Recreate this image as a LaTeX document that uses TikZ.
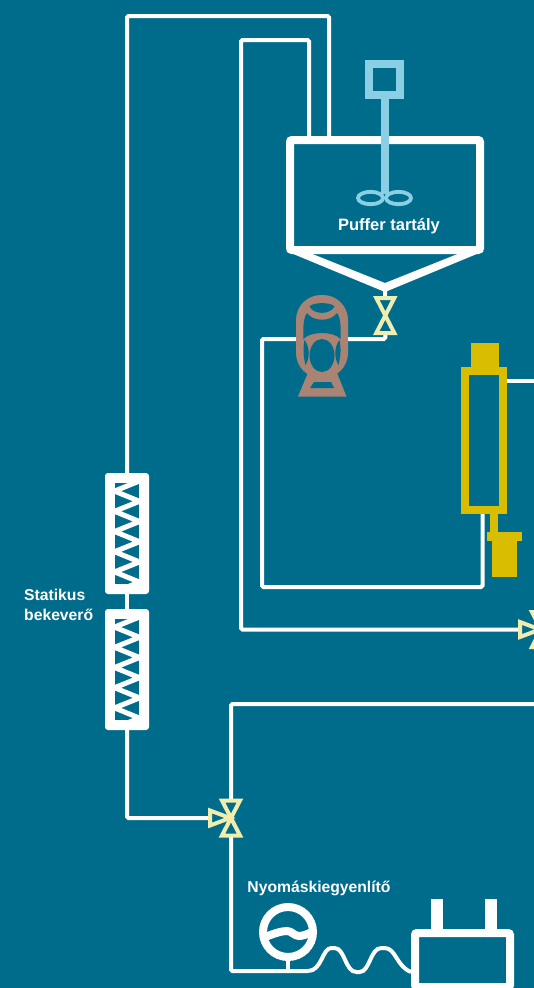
\documentclass[tikz,border=0pt]{standalone}
\usepackage{fontspec}
\setmainfont{Liberation Sans}
\usepackage{tikz}
\usetikzlibrary{positioning,backgrounds}
\definecolor{pagecol}{HTML}{006C8B}
\definecolor{stircol}{HTML}{8ACFE3}
\definecolor{valvecol}{HTML}{F0EDAE}
\definecolor{pumpcol}{HTML}{A98474}
\definecolor{colcol}{HTML}{D9BD00}
\tikzset{
  pics/bowtie/.style={code={
    \coordinate (-top) at (0,-19);
    \coordinate (-bot) at (0,19);
    \draw[valveline] (-9,-17.5)--(9,-17.5)--(0,0)--(9,17.5)--(-9,17.5)--(0,0)--cycle;
  }},
  pics/threeway/.style={code={
    \coordinate (-top) at (0,-19);
    \coordinate (-bot) at (0,19);
    \coordinate (-left) at (-23,0);
    \draw[valveline] (-21,-7.5)--(-21,7.5)--(-1,0)--cycle;
    \draw[valveline] (-9,-17.5)--(9,-17.5)--(0,0)--(9,17.5)--(-9,17.5)--(0,0)--cycle;
  }},
  pics/mixer/.style={code={
    \node[mixerbody] (-body) at (0,0) {};
    \fill[pagecol] (-12,-50.5) rectangle (12,50.5);
    \begin{scope}
      \clip (-12,-50.5) rectangle (12,50.5);
      \draw[white,line width=5pt] (12.5,-52.5) foreach \k in {0,...,5} {-- (-12.5,-42.4+20.2*\k) -- (12.5,-32.2+20.2*\k)};
    \end{scope}
  }}
}
\begin{document}
\begin{tikzpicture}[x=1pt,y=-1pt,line join=miter]
    \tikzstyle{pipe}=[draw=white,line width=4pt,rounded corners=1.5pt]
    \tikzstyle{valveline}=[draw=valvecol,fill=pagecol,line width=4pt]
    \tikzstyle{mixerbody}=[draw=none,fill=white,rectangle,rounded corners=3pt,minimum width=44pt,minimum height=121pt,inner sep=0pt,outer sep=0pt]
    \tikzstyle{wall}=[rectangle,draw=white,line width=8pt,rounded corners=2pt,inner sep=0pt,outer sep=0pt]
    \tikzstyle{yellowpart}=[rectangle,fill=colcol,inner sep=0pt,outer sep=0pt]
    \tikzstyle{caption}=[text=white,font=\bfseries\fontsize{15.7}{20}\selectfont,inner sep=0pt]

    \useasboundingbox (0,0) rectangle (534,988);
    \clip (0,0) rectangle (534,988);

    % tank and stirrer
    \node[wall,minimum width=190pt,minimum height=110pt] (tank) at (385,195) {};
    \fill[white] (286,251) -- (385,292) -- (484,251) -- (460,253) -- (385,283) -- (310,253) -- cycle;
    \node[rectangle,draw=stircol,line width=8pt,minimum size=31pt,inner sep=0pt,outer sep=0pt] (motor) at (384.5,79) {};
    \coordinate (hub) at (384.5,194);
    \draw[stircol,line width=8pt] (motor.south) -- (hub);
    \draw[stircol,line width=3.8pt] (370.5,198) ellipse [x radius=12.5pt,y radius=6.2pt];
    \draw[stircol,line width=3.8pt] (398.5,198) ellipse [x radius=12.5pt,y radius=6.2pt];
    \node[caption,font=\bfseries\fontsize{16.5}{20}\selectfont] (tanklabel) at (389,226) {Puffer tartály};
    \coordinate (apex) at (385,288);
    \pic (tankvalve) at (385.3,315.5) {bowtie};

    % pump
    \node[rectangle,fill=pumpcol,rounded corners=25pt,minimum width=52pt,minimum height=83pt,inner sep=0pt,outer sep=0pt] (pump) at (322,336.5) {};
    \fill[pumpcol] (298,396.5) -- (346.5,396.5) -- (335,368) -- (310,368) -- cycle;
    \fill[pagecol] (314,382) -- (331,382) -- (334,388) -- (310,388) -- cycle;
    \fill[pagecol] (309.5,306.5) .. controls (313,302) and (331,302) .. (334.5,306.5) .. controls (330,315) and (314,315) .. (309.5,306.5) -- cycle;
    \fill[pagecol] (307,313) .. controls (313,322) and (331,322) .. (337,313) .. controls (341,318) and (341,330) .. (340.5,339) .. controls (334,331) and (310,331) .. (303.5,339) .. controls (303,330) and (303,318) .. (307,313) -- cycle;
    \fill[pagecol] (322,355.5) ellipse [x radius=12.5pt,y radius=16.5pt];
    \fill[pagecol] (304.5,340) .. controls (310,347) and (310,358) .. (305.5,365) .. controls (303,355) and (303,348) .. (304.5,340) -- cycle;
    \fill[pagecol] (339.5,340) .. controls (334,347) and (334,358) .. (338.5,365) .. controls (341,355) and (341,348) .. (339.5,340) -- cycle;

    % column
    \node[rectangle,draw=colcol,line width=8pt,minimum width=38pt,minimum height=139pt,inner sep=0pt,outer sep=0pt] (column) at (484,440.5) {};
    \node[yellowpart,minimum width=28pt,minimum height=24pt] (colcap) at (485,355) {};
    \node[yellowpart,minimum width=8pt,minimum height=20pt] (colstem) at (494,523) {};
    \node[yellowpart,minimum width=35pt,minimum height=9pt] (colflange) at (504.5,536.5) {};
    \node[yellowpart,minimum width=25pt,minimum height=36pt] (colfoot) at (504.5,559) {};

    % static mixers
    \pic (mixA) at (127,533.5) {mixer};
    \pic (mixB) at (127,669.5) {mixer};
    \node[caption,anchor=west,align=left] (mixlabel) at (24,605) {Statikus\\bekeverő};

    % valves
    \pic (mainvalve) at (231,818) {threeway};
    \pic (sidevalve) at (541,629.5) {threeway};

    % balancer and tank at the bottom
    \node[caption] (gaugelabel) at (319,888) {Nyomáskiegyenlítő};
    \node[circle,draw=white,line width=8pt,minimum size=50pt,inner sep=0pt,outer sep=0pt] (gauge) at (288,932) {};
    \draw[white,line width=8pt] (265,937) .. controls (273,934) and (281,931) .. (287,931) .. controls (292,931) and (294,936) .. (299,936) .. controls (303,936) and (307,934) .. (311,932.5);
    \node[wall,minimum width=95pt,minimum height=54pt] (feedtank) at (462.5,960) {};
    \node[rectangle,fill=white,minimum width=12pt,minimum height=32pt,inner sep=0pt,outer sep=0pt] (plugA) at (437,915) {};
    \node[rectangle,fill=white,minimum width=12pt,minimum height=32pt,inner sep=0pt,outer sep=0pt] (plugB) at (491,915) {};

    % free ends and corners
    \coordinate (portA) at (329,137);
    \coordinate (portB) at (309,137);
    \coordinate (exitA) at (534,381);
    \coordinate (exitB) at (534,704);
    \coordinate (waveA) at (308,971);
    \coordinate (waveB) at (411,972);

    % pipes
    \begin{pgfonlayer}{background}
    \fill[pagecol] (0,0) rectangle (534,988);
    \draw[pipe] (mixA-body.north) -- (127,16) -- (329,16) -- (portA);
    \draw[pipe] (portB) -- (309,40) -- (241,40) |- (sidevalve-left);
    \draw[pipe] (apex) -- (tankvalve-bot) -- (385.3,339) -- (262,339) -- (262,587) -- (482.5,587) -- (482.5,514);
    \draw[pipe] (column.east |- exitA) -- (exitA);
    \draw[pipe] (mixA-body.south) -- (mixB-body.north);
    \draw[pipe] (mixB-body.south) |- (mainvalve-left);
    \draw[pipe] (mainvalve-top) |- (exitB);
    \draw[pipe] (mainvalve-bot) |- (waveA);
    \draw[pipe] (gauge.south) -- (gauge.south |- waveA);
    \draw[pipe] (waveA) .. controls (322,971) and (322,948) .. (333,948) .. controls (345,948) and (345,972) .. (358,972) .. controls (370,972) and (370,948) .. (383,948) .. controls (396,948) and (396,966) .. (waveB);
    \end{pgfonlayer}
\end{tikzpicture}
\end{document}
